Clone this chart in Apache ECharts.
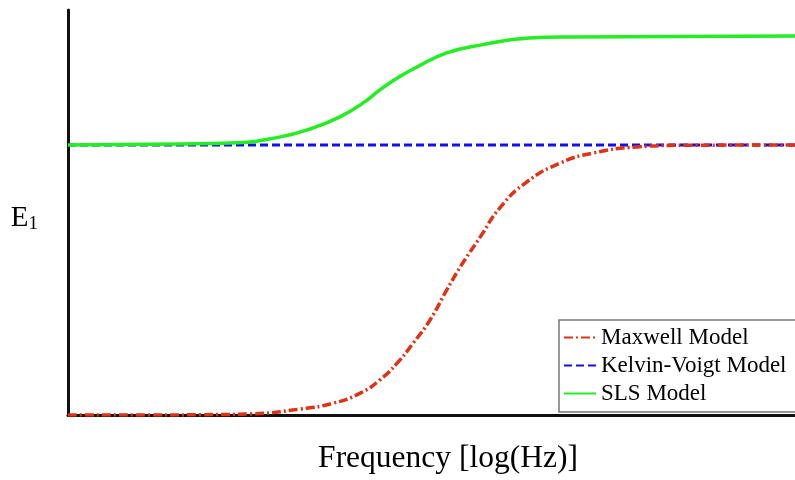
<!DOCTYPE html>
<html>
<head>
<meta charset="utf-8">
<script src="https://cdn.jsdelivr.net/npm/echarts@6/dist/echarts.min.js"></script>
<style>html,body{margin:0;padding:0;background:#fff}#c{width:795px;height:480px}</style>
</head>
<body>
<div id="c"></div>
<script>
// x: log-frequency (arbitrary units 0..10); y: storage modulus E1 (normalized)
const maxwellX = [0, 1.13, 1.82, 2.5, 3.19, 3.65, 4.02, 4.29, 4.53, 4.75, 4.98, 5.21, 5.43, 5.67, 5.94, 6.31, 6.77, 7.22, 7.83, 8.51, 10];
const maxwellY = [0, 0, 0.001, 0.004, 0.022, 0.044, 0.081, 0.13, 0.193, 0.267, 0.352, 0.463, 0.563, 0.659, 0.767, 0.863, 0.933, 0.97, 0.993, 0.999, 1.0];
const kelvinX = [0, 10];
const kelvinY = [1.0, 1.0];
const slsX = [0, 1.54, 2.23, 2.92, 3.37, 3.74, 4.06, 4.29, 4.53, 4.8, 5.21, 5.67, 6.35, 6.9, 8.42, 10];
const slsY = [1.0, 1.004, 1.007, 1.03, 1.063, 1.104, 1.156, 1.204, 1.248, 1.289, 1.341, 1.37, 1.396, 1.4, 1.402, 1.404];
const seriesNames = ['Maxwell Model', 'Kelvin-Voigt Model', 'SLS Model'];

const zip = (xs, ys) => xs.map((x, i) => [x, ys[i]]);
const chart = echarts.init(document.getElementById('c'));
const serif = '"Liberation Serif", "Times New Roman", serif';
chart.setOption({
  animation: false,
  grid: { left: 68, right: 0, top: 10, bottom: 65, outerBoundsMode: 'none', containLabel: false },
  xAxis: {
    type: 'value', min: 0, max: 10,
    name: 'Frequency [log(Hz)]', nameLocation: 'middle', nameGap: 28,
    nameTextStyle: { fontFamily: serif, fontSize: 31.5, color: '#000', padding: [0, 0, 0, 33] },
    axisLine: { lineStyle: { color: '#111', width: 3 } },
    axisTick: { show: false }, axisLabel: { show: false }, splitLine: { show: false }
  },
  yAxis: {
    type: 'value', min: 0, max: 1.5,
    name: '{e|E}{s|1}', nameLocation: 'middle', nameGap: 30, nameRotate: 0,
    nameTextStyle: {
      fontFamily: serif, color: '#000', padding: [12, 0, 0, 0],
      rich: {
        e: { fontFamily: serif, fontSize: 29, color: '#000' },
        s: { fontFamily: serif, fontSize: 19, color: '#000', padding: [12, 0, 0, 0] }
      }
    },
    axisLine: { show: true, lineStyle: { color: '#111', width: 3 } },
    axisTick: { show: false }, axisLabel: { show: false }, splitLine: { show: false }
  },
  legend: {
    data: seriesNames,
    orient: 'vertical', left: 559, top: 320,
    itemWidth: 32, itemHeight: 14, itemGap: 5,
    padding: [6, 20, 7, 4],
    borderColor: '#777', borderWidth: 1.5, backgroundColor: '#fff',
    itemStyle: { opacity: 0 },
    textStyle: { fontFamily: serif, fontSize: 23, color: '#000' }
  },
  series: [
    { name: seriesNames[0], type: 'line', data: zip(maxwellX, maxwellY), smooth: 0.5, showSymbol: false, symbol: 'none',
      lineStyle: { color: '#e03214', width: 3.5, type: [9, 3, 2, 3] }, itemStyle: { color: '#e03214' }, z: 3 },
    { name: seriesNames[1], type: 'line', data: zip(kelvinX, kelvinY), showSymbol: false, symbol: 'none',
      lineStyle: { color: '#1010ee', width: 3, type: [8, 4] }, itemStyle: { color: '#1010ee' }, z: 2 },
    { name: seriesNames[2], type: 'line', data: zip(slsX, slsY), smooth: 0.5, showSymbol: false, symbol: 'none',
      lineStyle: { color: '#22ee22', width: 3.5 }, itemStyle: { color: '#22ee22' }, z: 4 }
  ]
});
</script>
</body>
</html>
